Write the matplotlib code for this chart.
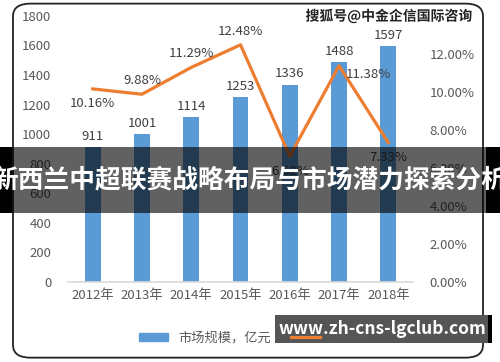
import matplotlib
matplotlib.use('Agg')
import matplotlib.pyplot as plt
import matplotlib.patheffects as pe
from matplotlib.patches import FancyBboxPatch, Rectangle
from matplotlib.lines import Line2D

plt.rcParams['font.family'] = ['Noto Sans CJK SC', 'DejaVu Sans']

years = ['2012年', '2013年', '2014年', '2015年', '2016年', '2017年', '2018年']
market = [911, 1001, 1114, 1253, 1336, 1488, 1597]
growth = [10.16, 9.88, 11.29, 12.48, 6.62, 11.38, 7.33]
# where each growth label sits relative to its point
growth_pos = ['below', 'above', 'above', 'above', 'below', 'right', 'below']

gray = '#595959'
blue = '#5B9BD5'
orange = '#ED7D31'

fig = plt.figure(figsize=(5, 3.62), dpi=100)

# rounded frame around the chart
frame = FancyBboxPatch((0.026, 0.012), 0.94, 0.978, boxstyle='round,pad=0,rounding_size=0.035',
                       transform=fig.transFigure, facecolor='white', edgecolor='#222222',
                       linewidth=1.3, zorder=0)
fig.patches.append(frame)

ax = fig.add_axes([0.136, 0.221, 0.69, 0.735])
ax.set_zorder(1)
x = range(len(years))
ax.bar(x, market, width=0.32, color=blue, zorder=2)
ax.set_ylim(0, 1800)
ax.set_yticks(range(0, 1801, 200))
ax.set_xlim(-0.5, len(years) - 0.5)
ax.set_xticks(list(x))
ax.set_xticklabels(years)
for s in ['top', 'left', 'right']:
    ax.spines[s].set_visible(False)
ax.spines['bottom'].set_color('#D9D9D9')
ax.spines['bottom'].set_linewidth(1.2)
ax.tick_params(length=0, colors=gray, labelsize=9.5)
ax.tick_params(axis='y', pad=12)
ax.tick_params(axis='x', pad=5)
ax.patch.set_alpha(0)
for i, v in enumerate(market):
    ax.annotate(str(v), (i, v), xytext=(0, 3), textcoords='offset points',
                ha='center', va='bottom', color='#404040', fontsize=9.5)

ax2 = ax.twinx()
ax2.plot(list(x), growth, color=orange, linewidth=2.3, zorder=3)
ax2.set_ylim(0, 14)
ax2.set_yticks(range(0, 13, 2))
ax2.set_yticklabels(['%.2f%%' % t for t in range(0, 13, 2)])
for s in ['top', 'left', 'right', 'bottom']:
    ax2.spines[s].set_visible(False)
ax2.tick_params(length=0, colors=gray, labelsize=9.5, pad=12)
for i, (g, p) in enumerate(zip(growth, growth_pos)):
    if p == 'above':
        off, ha, va = (0, 5), 'center', 'bottom'
    elif p == 'below':
        off, ha, va = (0, -6), 'center', 'top'
    else:
        off, ha, va = (5, -6), 'left', 'center'
    ax2.annotate('%.2f%%' % g, (i, g), xytext=off, textcoords='offset points',
                 ha=ha, va=va, color='#404040', fontsize=9.5)

handles = [Rectangle((0, 0), 1, 1, color=blue),
           Line2D([0], [0], color=orange, linewidth=2.3)]
fig.legend(handles, ['市场规模，亿元', '增长率'], loc='center', bbox_to_anchor=(0.51, 0.066),
           ncol=2, frameon=False, fontsize=9.5, labelcolor=gray,
           handlelength=2.2, handleheight=0.6, columnspacing=1.5)

# watermark top right
fig.text(0.944, 0.955, '搜狐号@中金企信国际咨询', ha='right', va='center', fontsize=10,
         fontweight='bold', color='#222222',
         path_effects=[pe.withStroke(linewidth=2, foreground='white')])

# dark banner across the middle
fig.patches.append(Rectangle((0, 0.412), 1, 0.182, transform=fig.transFigure,
                             facecolor='#000000', alpha=0.62, zorder=5))
fig.patches.append(Rectangle((0, 0.412), 0.024, 0.182, transform=fig.transFigure,
                             facecolor='#000000', zorder=5))
fig.patches.append(Rectangle((0.972, 0.412), 0.028, 0.182, transform=fig.transFigure,
                             facecolor='#000000', zorder=5))
fig.text(0.5, 0.503, '新西兰中超联赛战略布局与市场潜力探索分析', ha='center', va='center',
         fontsize=18.5, fontweight='bold', color='white', zorder=6)

# url box bottom right
fig.patches.append(Rectangle((0.55, 0.052), 0.43, 0.077, transform=fig.transFigure,
                             facecolor='#555555', zorder=5))
fig.patches.append(Rectangle((0.976, 0.052), 0.008, 0.077, transform=fig.transFigure,
                             facecolor='#000000', zorder=5))
fig.text(0.765, 0.091, 'www.zh-cns-lgclub.com', ha='center', va='center',
         fontsize=12.5, fontweight='bold', color='white', zorder=6)

fig.savefig('out.png', dpi=100)
